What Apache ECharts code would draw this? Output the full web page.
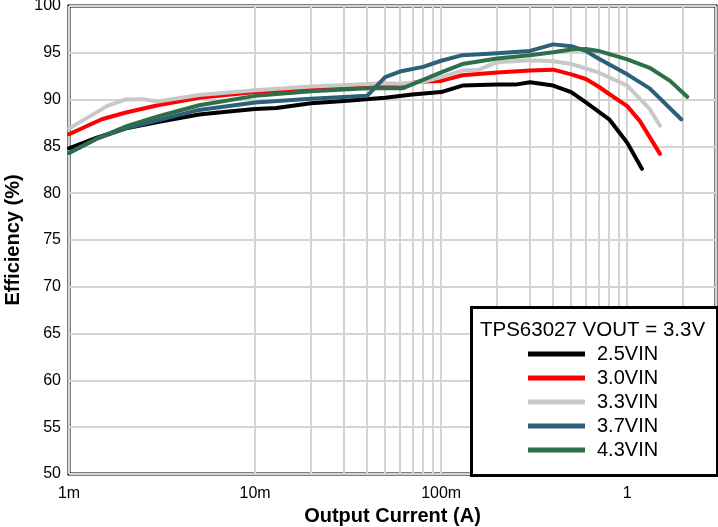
<!DOCTYPE html>
<html>
<head>
<meta charset="utf-8">
<script src="https://cdn.jsdelivr.net/npm/echarts@6/dist/echarts.min.js"></script>
<style>
html,body{margin:0;padding:0;background:#fff;}
#chart{width:718px;height:527px;}
</style>
</head>
<body>
<div id="chart"></div>
<script>
// ---- data ----
const seriesNames = ['2.5VIN', '3.0VIN', '3.3VIN', '3.7VIN', '4.3VIN'];

const current25 = [0.001, 0.0014, 0.002, 0.003, 0.005, 0.007, 0.01, 0.013, 0.02, 0.03, 0.05, 0.07, 0.1, 0.13, 0.2, 0.25, 0.3, 0.4, 0.5, 0.6, 0.8, 1.0, 1.2];
const eff25     = [84.8, 85.9, 86.9, 87.6, 88.4, 88.7, 89.0, 89.1, 89.6, 89.85, 90.2, 90.55, 90.8, 91.5, 91.6, 91.6, 91.85, 91.5, 90.8, 89.7, 87.9, 85.4, 82.6];

const current30 = [0.001, 0.0015, 0.002, 0.003, 0.005, 0.007, 0.01, 0.02, 0.03, 0.05, 0.06, 0.075, 0.1, 0.13, 0.2, 0.3, 0.4, 0.5, 0.6, 0.7, 0.8, 1.0, 1.17, 1.5];
const eff30     = [86.3, 87.9, 88.6, 89.4, 90.2, 90.5, 90.8, 91.1, 91.3, 91.4, 91.45, 91.9, 92.0, 92.6, 92.9, 93.1, 93.2, 92.7, 92.2, 91.4, 90.6, 89.3, 87.7, 84.2];

const current33 = [0.001, 0.0016, 0.002, 0.0025, 0.003, 0.005, 0.01, 0.02, 0.05, 0.06, 0.08, 0.1, 0.13, 0.16, 0.2, 0.3, 0.4, 0.5, 0.7, 1.0, 1.32, 1.5];
const eff33     = [86.9, 89.3, 90.0, 90.05, 89.8, 90.5, 91.0, 91.4, 91.75, 91.7, 91.9, 92.4, 93.1, 93.2, 94.0, 94.2, 94.1, 93.8, 92.9, 91.5, 89.0, 87.2];

const current37 = [0.001, 0.0014, 0.002, 0.003, 0.005, 0.01, 0.02, 0.04, 0.05, 0.06, 0.08, 0.1, 0.13, 0.2, 0.3, 0.4, 0.5, 0.6, 0.7, 1.0, 1.32, 1.95];
const eff37     = [84.3, 85.8, 86.9, 87.8, 88.9, 89.7, 90.1, 90.4, 92.4, 93.0, 93.5, 94.15, 94.75, 94.95, 95.2, 95.9, 95.7, 95.2, 94.4, 92.7, 91.2, 87.9];

const current43 = [0.001, 0.0014, 0.002, 0.003, 0.005, 0.01, 0.02, 0.04, 0.062, 0.1, 0.13, 0.2, 0.3, 0.4, 0.5, 0.6, 0.7, 1.0, 1.32, 1.7, 2.1];
const eff43     = [84.3, 85.8, 87.1, 88.2, 89.4, 90.4, 90.9, 91.2, 91.2, 92.9, 93.8, 94.4, 94.75, 95.05, 95.35, 95.4, 95.2, 94.3, 93.4, 92.0, 90.3];

const xTickValues = [0.001, 0.01, 0.1, 1];
const xTickLabels = ['1m', '10m', '100m', '1'];
const minorGridValues = [0.002,0.003,0.004,0.005,0.006,0.007,0.008,0.009,
                         0.02,0.03,0.04,0.05,0.06,0.07,0.08,0.09,
                         0.2,0.3,0.4,0.5,0.6,0.7,0.8,0.9, 2];
const legendTitle = 'TPS63027 VOUT = 3.3V';

// ---- styles ----
const colors = ['#000000', '#ff0000', '#c8c8c8', '#2c6079', '#2d6e4b'];
const FONT = 'Liberation Sans, Arial, sans-serif';
const GRIDC = '#d4d4d4';

function pairs(xs, ys) { return xs.map((x, i) => [x, ys[i]]); }
const allCurrents = [current25, current30, current33, current37, current43];
const allEff = [eff25, eff30, eff33, eff37, eff43];

const series = seriesNames.map((name, i) => ({
  name: name,
  type: 'line',
  data: pairs(allCurrents[i], allEff[i]),
  showSymbol: false,
  symbol: 'none',
  smooth: false,
  lineStyle: { color: colors[i], width: 4, join: 'round', cap: 'round' },
  itemStyle: { color: colors[i] },
  z: 3,
  silent: true,
  animation: false
}));

series[0].markLine = {
  silent: true,
  symbol: 'none',
  z: 1,
  label: { show: false },
  animation: false,
  lineStyle: { color: GRIDC, width: 2, type: 'solid' },
  data: minorGridValues.map(v => ({ xAxis: v }))
};

const chart = echarts.init(document.getElementById('chart'), null, { renderer: 'canvas' });
chart.setOption({
  animation: false,
  backgroundColor: '#ffffff',
  textStyle: { fontFamily: FONT },
  grid: {
    left: 69, right: 2, top: 6, bottom: 53,
    show: true, borderColor: '#000', borderWidth: 3, backgroundColor: 'transparent',
    containLabel: false,
    outerBoundsMode: 'none'
  },
  xAxis: {
    type: 'log',
    logBase: 10,
    min: 0.001,
    max: 3,
    axisLine: { show: false },
    axisTick: { show: false },
    splitLine: { show: true, lineStyle: { color: GRIDC, width: 2 } },
    axisLabel: {
      color: '#000', fontSize: 16, fontFamily: FONT, margin: 12,
      showMaxLabel: false,
      formatter: function (v) {
        const lv = Math.log10(v);
        for (let i = 0; i < xTickValues.length; i++) {
          if (Math.abs(Math.log10(xTickValues[i]) - lv) < 1e-6) return xTickLabels[i];
        }
        return '';
      }
    },
    name: 'Output Current (A)',
    nameLocation: 'middle',
    nameGap: 31,
    nameTextStyle: { color: '#000', fontSize: 20, fontWeight: 'bold', fontFamily: FONT }
  },
  yAxis: {
    type: 'value',
    min: 50,
    max: 100,
    interval: 5,
    axisLine: { show: false },
    axisTick: { show: false },
    splitLine: { show: true, lineStyle: { color: GRIDC, width: 2 } },
    axisLabel: { color: '#000', fontSize: 16, fontFamily: FONT, margin: 8 },
    name: 'Efficiency (%)',
    nameLocation: 'middle',
    nameGap: 46,
    nameTextStyle: { color: '#000', fontSize: 20, fontWeight: 'bold', fontFamily: FONT }
  },
  legend: {
    show: true,
    orient: 'vertical',
    left: 528,
    top: 344,
    padding: 0,
    itemWidth: 57,
    itemHeight: 5,
    itemGap: 4,
    icon: 'rect',
    selectedMode: false,
    z: 30,
    data: seriesNames,
    textStyle: { color: '#000', fontSize: 20, fontFamily: FONT, lineHeight: 20, padding: [0, 0, 0, 7] }
  },
  graphic: [
    {
      type: 'rect',
      left: 470, top: 306,
      shape: { width: 246, height: 168 },
      style: { fill: '#fff', stroke: '#000', lineWidth: 3 },
      z: 20,
      silent: true
    },
    {
      type: 'text',
      left: 480, top: 320,
      style: { text: legendTitle, fill: '#000', font: '20.5px ' + FONT },
      z: 25,
      silent: true
    }
  ],
  series: series
});
</script>
</body>
</html>
